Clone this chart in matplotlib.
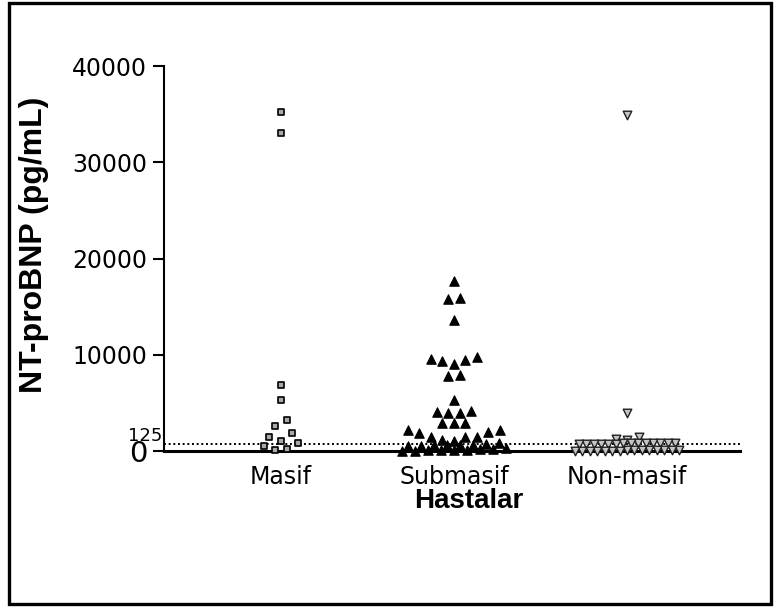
import matplotlib
matplotlib.use('Agg')
import matplotlib.pyplot as plt
import numpy as np
from matplotlib.patches import Rectangle
from matplotlib.transforms import ScaledTranslation

# data (pg/mL)
groups = ['Masif', 'Submasif', 'Non-masif']
masif = [35200, 33000, 6900, 5300, 3200, 2600, 1850, 1500, 1050, 850, 500, 180, 150]
submasif = [17700, 15900, 15800, 13600, 9800, 9600, 9500, 9400, 9000, 7900, 7800,
            5300, 4150, 4100, 4000, 3950, 2900, 2880, 2860, 2200, 2150, 1950,
            1870, 1480, 1450, 1450, 1100, 1050, 800, 700, 650, 620, 600, 580,
            560, 540, 300, 250, 200, 150, 100, 80, 60, 40, 20]
nonmasif = [34900, 4000, 1490, 1250, 1150, 880, 860, 850, 830, 820, 800, 790,
            780, 770, 760, 750, 740, 720, 700, 150, 130, 120, 100, 90, 80,
            70, 60, 50, 40, 30, 20, 15, 10, 5]
threshold = 125
yticks = [0, 10000, 20000, 30000, 40000]

W, H, DPI = 7.76, 6.09, 100
fig = plt.figure(figsize=(W, H), dpi=DPI)
ax = fig.add_axes([164/776, 1 - 451/609, 576/776, 385/609])

xmin, xmax = 0.324, 3.653
ymin, ymax = 0, 40000
ax.set_xlim(xmin, xmax)
ax.set_ylim(ymin, ymax)

# pixels per data unit, used to lay out the column scatter
ppu_x = 576 / (xmax - xmin)
ppu_y = 385 / (ymax - ymin)


def column_scatter(values, row=1350, shift=450, step_px=11.5, max_half_px=52.0):
    # Prism-like column scatter: points falling in the same row are spread
    # side by side (lowest in the middle), squeezed when a row gets too wide
    vals = np.asarray(values, dtype=float)
    rows = np.floor((vals + shift) / row).astype(int)
    xs = np.zeros(len(vals))
    for r in np.unique(rows):
        idx = np.where(rows == r)[0]
        idx = idx[np.argsort(vals[idx], kind='stable')]
        n = len(idx)
        pos = np.arange(n) - (n - 1) / 2
        if n > 1 and (n - 1) * step_px / 2 > max_half_px:
            # crowded row: interleave low and high values across the width
            step = 2 * max_half_px / (n - 1)
            slots = list(range(0, n, 2)) + list(range(1, n, 2))
        else:
            step = step_px
            slots = sorted(range(n), key=lambda k: (abs(pos[k]), pos[k]))
        for j, k in zip(idx, slots):
            xs[j] = pos[k] * step
    return xs / ppu_x


styles = [dict(marker='s', s=22, facecolor='#a8a8a8', edgecolor='k', linewidths=1.2),
          dict(marker='^', s=46, facecolor='k', edgecolor='k', linewidths=0.8),
          dict(marker='v', s=38, facecolor='#c4c4c4', edgecolor='#202020', linewidths=1.0)]

for i, (vals, st) in enumerate(zip([masif, submasif, nonmasif], styles)):
    xs = (i + 1) + column_scatter(vals)
    ax.scatter(xs, vals, clip_on=False, zorder=3, **st)

# dotted reference line (125 pg/mL), drawn slightly above the axis like the original
off = ScaledTranslation(0, 6 / DPI, fig.dpi_scale_trans)
ax.plot([0, 1], [threshold, threshold], transform=ax.get_yaxis_transform() + off,
        ls=(0, (1, 1.4)), color='k', lw=1.4, zorder=2, clip_on=False)
ax.annotate('125', xy=(0, threshold), xycoords=ax.get_yaxis_transform(),
            xytext=(-2, 14), textcoords='offset pixels', ha='right', va='center',
            fontsize=13)

for s in ['top', 'right']:
    ax.spines[s].set_visible(False)
ax.spines['left'].set_linewidth(1.5)
ax.spines['bottom'].set_linewidth(2.2)

ax.set_yticks(yticks)
ax.set_yticklabels([str(t) for t in yticks])
ax.tick_params(axis='y', length=8, width=1.5, pad=4, labelsize=17)
ax.get_yticklabels()[0].set_fontsize(21)
ax.set_xticks([1, 2, 3])
ax.set_xticklabels(groups)
ax.tick_params(axis='x', length=0, pad=10, labelsize=17)

ax.set_xlabel('Hastalar', fontsize=20, fontweight='bold', family='Liberation Sans')
ax.set_ylabel('NT-proBNP (pg/mL)', fontsize=23, fontweight='bold', family='Liberation Sans')
ax.xaxis.set_label_coords((469 - 164) / 576, -0.095)
ax.yaxis.set_label_coords(-0.20, (451 - 245) / 385)

fig.add_artist(Rectangle((9 / 776, 1 - 604 / 609), 762 / 776, 601 / 609,
                         transform=fig.transFigure, fill=False, lw=2.4, ec='k'))

fig.savefig('out.png', dpi=DPI)
